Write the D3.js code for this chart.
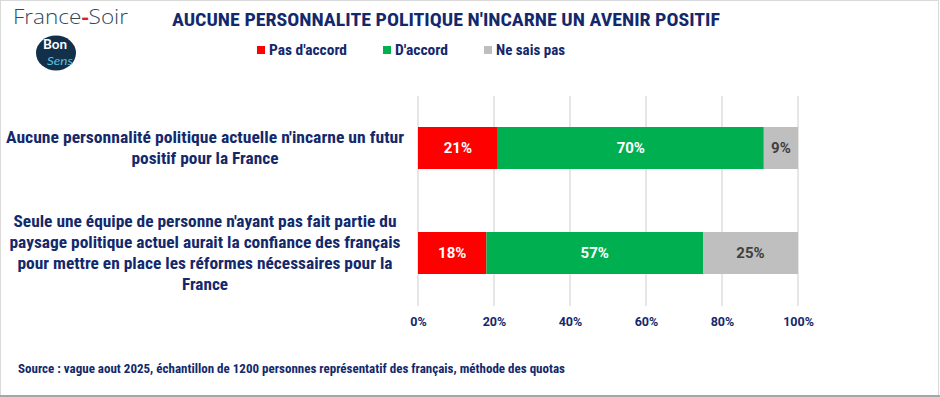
<!DOCTYPE html>
<html><head><meta charset="utf-8">
<script src="https://cdn.jsdelivr.net/npm/d3@7/dist/d3.min.js"></script>
<style>
html,body{margin:0;padding:0;background:#fff;}
svg{display:block;}
</style></head>
<body>
<svg id="chart" width="940" height="397"></svg>
<script>
const title = "AUCUNE PERSONNALITE POLITIQUE N'INCARNE UN AVENIR POSITIF";
const categories = [
  ["Aucune personnalité politique actuelle n'incarne un futur", "positif pour la France"],
  ["Seule une équipe de personne n'ayant pas fait partie du", "paysage politique actuel aurait la confiance des français", "pour mettre en place les réformes nécessaires pour la", "France"]
];
const seriesNames = ["Pas d'accord", "D'accord", "Ne sais pas"];
const seriesColors = ["#ff0000", "#00b050", "#bfbfbf"];
const labelColors = ["#ffffff", "#ffffff", "#404040"];
const pasDAccord = [21, 18];
const dAccord = [70, 57];
const neSaisPas = [9, 25];
const xTicks = [0, 20, 40, 60, 80, 100];
const source = "Source : vague aout 2025, échantillon de 1200 personnes représentatif des français, méthode des quotas";

const navy = "#13296b";
const font = "'Roboto Condensed','Liberation Sans Narrow','Liberation Sans',Arial,sans-serif";
const fontW = "Roboto,'Liberation Sans',Arial,sans-serif";
const svg = d3.select("#chart");

// stretch text horizontally to a target width (matches the narrow source font metrics)
function fit(sel, w){ sel.attr("textLength", w).attr("lengthAdjust","spacingAndGlyphs"); return sel; }

// frame
svg.append("rect").attr("x",0.5).attr("y",0.5).attr("width",938).attr("height",395)
  .attr("fill","#fff").attr("stroke","#d9d9d9").attr("stroke-width",1);
svg.append("line").attr("x1",0).attr("x2",940).attr("y1",396).attr("y2",396).attr("stroke","#a6a6a6").attr("stroke-width",2);

// logo
const logo = svg.append("text").attr("x",13).attr("y",24).attr("font-family","'Open Sans',Lato,sans-serif")
  .attr("font-size",20).attr("font-weight",300).attr("fill","#2f4a5c");
logo.append("tspan").text("France");
logo.append("tspan").text("-").attr("fill","#e41e26").attr("font-weight",700);
logo.append("tspan").text("Soir");
fit(logo, 115);
svg.append("ellipse").attr("cx",56).attr("cy",53).attr("rx",20).attr("ry",17.5).attr("fill","#13304a");
fit(svg.append("text").attr("x",43).attr("y",49).attr("font-family","Lato,sans-serif")
  .attr("font-weight",700).attr("font-size",13).attr("fill","#fff").text("Bon"), 24);
fit(svg.append("text").attr("x",47).attr("y",65).attr("font-family","Lato,sans-serif")
  .attr("font-style","italic").attr("font-size",11).attr("fill","#5bc0de").text("Sens"), 26);

// title
fit(svg.append("text").attr("x",172).attr("y",26)
  .attr("font-family",font).attr("font-weight",700).attr("font-size",18.5).attr("fill",navy).text(title), 548);

// legend
const legX = [257, 383, 484];
const legW = [78, 53, 69];
seriesNames.forEach((n,i)=>{
  svg.append("rect").attr("x",legX[i]).attr("y",46).attr("width",8).attr("height",8).attr("fill",seriesColors[i]);
  fit(svg.append("text").attr("x",legX[i]+12).attr("y",55).attr("font-family",font).attr("font-weight",700)
    .attr("font-size",14).attr("fill",navy).text(n), legW[i]);
});

// scales
const x = d3.scaleLinear().domain([0,100]).range([418,798]);
const y = d3.scaleBand().domain(d3.range(categories.length)).range([95.5,305.5]).paddingInner(0.6).paddingOuter(0.3);

// gridlines
svg.append("g").selectAll("line").data(xTicks).join("line")
  .attr("x1",d=>x(d)).attr("x2",d=>x(d)).attr("y1",96).attr("y2",306)
  .attr("stroke","#d9d9d9").attr("stroke-width",1.3);

// axis labels
const axis = d3.axisBottom(x).tickValues(xTicks).tickFormat(d=>d+"%").tickSize(0).tickPadding(0);
const ag = svg.append("g").attr("transform","translate(0,315)").call(axis);
ag.select(".domain").remove();
ag.selectAll("text").attr("font-family",fontW).attr("font-weight",700).attr("font-size",12.5).attr("fill",navy).attr("dy","0.85em");

// stacked bars
const series = [pasDAccord, dAccord, neSaisPas];
const rows = categories.map((c,i)=>({i, v: series.map(s=>s[i])}));
rows.forEach(r=>{
  let acc = 0;
  r.v.forEach((v,k)=>{
    const x0 = x(acc), x1 = x(acc+v);
    svg.append("rect").attr("x",x0).attr("y",y(r.i)).attr("width",x1-x0).attr("height",y.bandwidth())
      .attr("fill",seriesColors[k]);
    svg.append("text").attr("x",(x0+x1)/2).attr("y",y(r.i)+y.bandwidth()/2).attr("dy","0.36em")
      .attr("text-anchor","middle").attr("font-family",fontW).attr("font-weight",700).attr("font-size",15)
      .attr("fill",labelColors[k]).text(v+"%");
    acc += v;
  });
});

// category labels
const catW = [[398, 147], [383, 391, 375, 46]];
categories.forEach((lines,i)=>{
  const cy = y(i)+y.bandwidth()/2;
  const lh = 21;
  lines.forEach((l,j)=>{
    fit(svg.append("text").attr("text-anchor","middle").attr("font-family",font).attr("font-weight",700)
      .attr("font-size",16).attr("fill",navy)
      .attr("x",205).attr("y",cy + (j-(lines.length-1)/2)*lh).attr("dy","0.36em").text(l), catW[i][j]);
  });
});

// source
fit(svg.append("text").attr("x",18).attr("y",373).attr("font-family",font).attr("font-weight",700)
  .attr("font-size",12).attr("fill",navy).text(source), 547);
</script>
</body></html>
